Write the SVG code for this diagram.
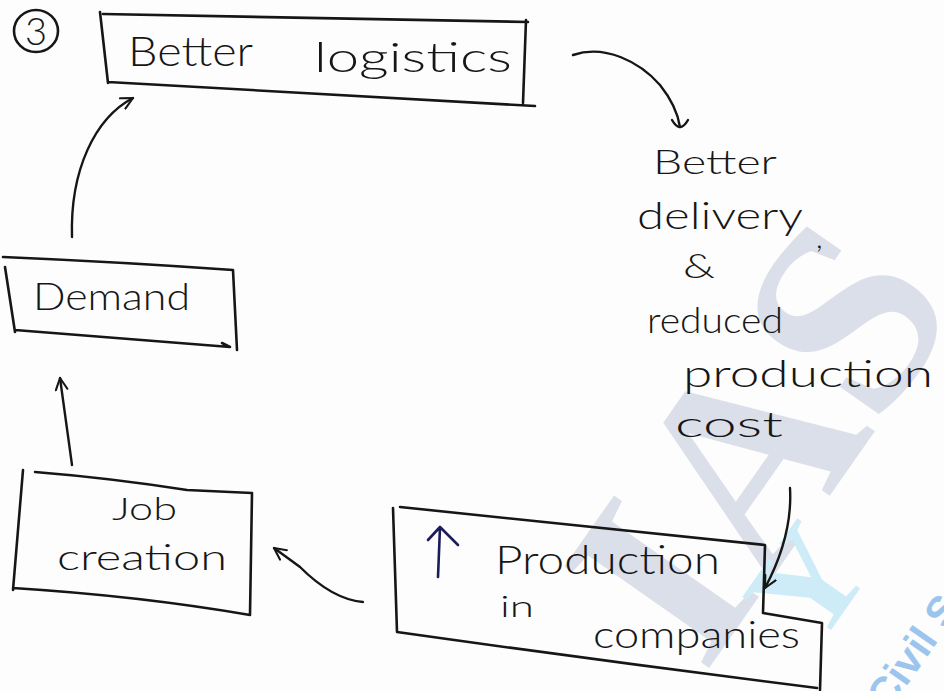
<svg xmlns="http://www.w3.org/2000/svg" width="944" height="691" viewBox="0 0 944 691">
  <defs>
    <style>
      .ink { fill: none; stroke: #161616; stroke-width: 2.6; stroke-linecap: round; stroke-linejoin: round; }
      .wire { fill: none; stroke: #161616; stroke-width: 2.4; stroke-linecap: round; }
      .hand { font-family: "Lato", "Liberation Sans", "DejaVu Sans", sans-serif; font-weight: 300; fill: #161616; }
      .mark { font-family: "Liberation Serif", serif; font-weight: bold; }
    </style>
    <marker id="openHead" viewBox="0 0 12 12" refX="11" refY="6" markerWidth="14" markerHeight="14" markerUnits="userSpaceOnUse" orient="auto">
      <path d="M1,1 L11,6 L1,11" fill="none" stroke="#161616" stroke-width="1.8" stroke-linecap="round" stroke-linejoin="round"/>
    </marker>
  </defs>

  <rect width="944" height="691" fill="#fdfdfd"/>

  <!-- faint background watermark -->
  <g id="watermark" opacity="0.5">
    <text class="mark" x="833" y="491" font-size="270" text-anchor="middle" fill="#b9c3d6" transform="rotate(-55 833 491)">IAS</text>
    <text class="mark" x="845" y="610" font-size="140" text-anchor="middle" fill="#9fdcf2" transform="rotate(-55 845 610)">Y</text>
    <text x="925" y="660" font-size="42" font-family="Liberation Sans, sans-serif" font-weight="bold" text-anchor="middle" fill="#3d8fe0" transform="rotate(-55 925 660)">Civil S</text>
  </g>

  <!-- item number -->
  <g id="step-number">
    <ellipse cx="36" cy="31" rx="22" ry="21" class="ink"/>
    <text class="hand" x="36" y="45" font-size="38" text-anchor="middle">3</text>
  </g>

  <g id="node-logistics">
    <path class="ink" d="M100,12 L108,83 M103,14 L528,22 M526,20 L523,103 M108,82 Q320,93 535,106"/>
    <text class="hand" x="128" y="66" font-size="42" textLength="125" lengthAdjust="spacingAndGlyphs">Better</text>
    <text class="hand" x="314" y="72" font-size="42" textLength="198" lengthAdjust="spacingAndGlyphs">logistics</text>
  </g>

  <g id="node-delivery">
    <text class="hand" x="653" y="174" font-size="34" textLength="124" lengthAdjust="spacingAndGlyphs">Better</text>
    <text class="hand" x="637" y="229" font-size="38" textLength="166" lengthAdjust="spacingAndGlyphs">delivery</text>
    <text class="hand" x="816" y="248" font-size="30">,</text>
    <text class="hand" x="683" y="278" font-size="34" textLength="32" lengthAdjust="spacingAndGlyphs">&amp;</text>
    <text class="hand" x="647" y="333" font-size="36" textLength="136" lengthAdjust="spacingAndGlyphs">reduced</text>
    <text class="hand" x="683" y="387" font-size="38" textLength="250" lengthAdjust="spacingAndGlyphs">production</text>
    <text class="hand" x="675" y="437" font-size="36" textLength="108" lengthAdjust="spacingAndGlyphs">cost</text>
  </g>

  <g id="node-production">
    <path class="ink" d="M393,508 L397,632 M400,507 L765,545 L763,613 L822,623 L820,690 M397,632 Q610,662 817,688"/>
    <path d="M438,577 L440,527 M428,540 L440,527 L458,545" fill="none" stroke="#1c1c5c" stroke-width="2.6" stroke-linecap="round" stroke-linejoin="round"/>
    <text class="hand" x="495" y="574" font-size="40" textLength="225" lengthAdjust="spacingAndGlyphs">Production</text>
    <text class="hand" x="500" y="617" font-size="30" textLength="34" lengthAdjust="spacingAndGlyphs">in</text>
    <text class="hand" x="593" y="648" font-size="38" textLength="207" lengthAdjust="spacingAndGlyphs">companies</text>
  </g>

  <g id="node-job">
    <path class="ink" d="M23,470 L13,590 M35,472 Q110,478 187,490 L252,493 L250,615 M13,588 Q140,596 250,615"/>
    <text class="hand" x="112" y="520" font-size="32" textLength="65" lengthAdjust="spacingAndGlyphs">Job</text>
    <text class="hand" x="57" y="570" font-size="36" textLength="170" lengthAdjust="spacingAndGlyphs">creation</text>
  </g>

  <g id="node-demand">
    <path class="ink" d="M3,257 Q120,262 233,270 M5,267 L15,332 M15,330 Q120,338 230,347 M233,270 L237,350 M222,343 L230,347"/>
    <text class="hand" x="33" y="310" font-size="38" textLength="157" lengthAdjust="spacingAndGlyphs">Demand</text>
  </g>

  <!-- cycle connectors -->
  <g id="connectors">
    <path class="wire" d="M573,55 C605,44 640,62 660,85 C672,100 678,114 680,127"/>
    <path class="wire" d="M672,120 Q680,134 688,120"/>
    <path class="wire" marker-end="url(#openHead)" d="M790,488 C792,522 782,556 765,588"/>
    <path class="wire" marker-end="url(#openHead)" d="M363,602 C340,600 318,585 300,567 L274,548"/>
    <path class="wire" marker-end="url(#openHead)" d="M72,465 L60,378"/>
    <path class="wire" marker-end="url(#openHead)" d="M72,237 C70,170 95,118 133,98"/>
  </g>
</svg>
